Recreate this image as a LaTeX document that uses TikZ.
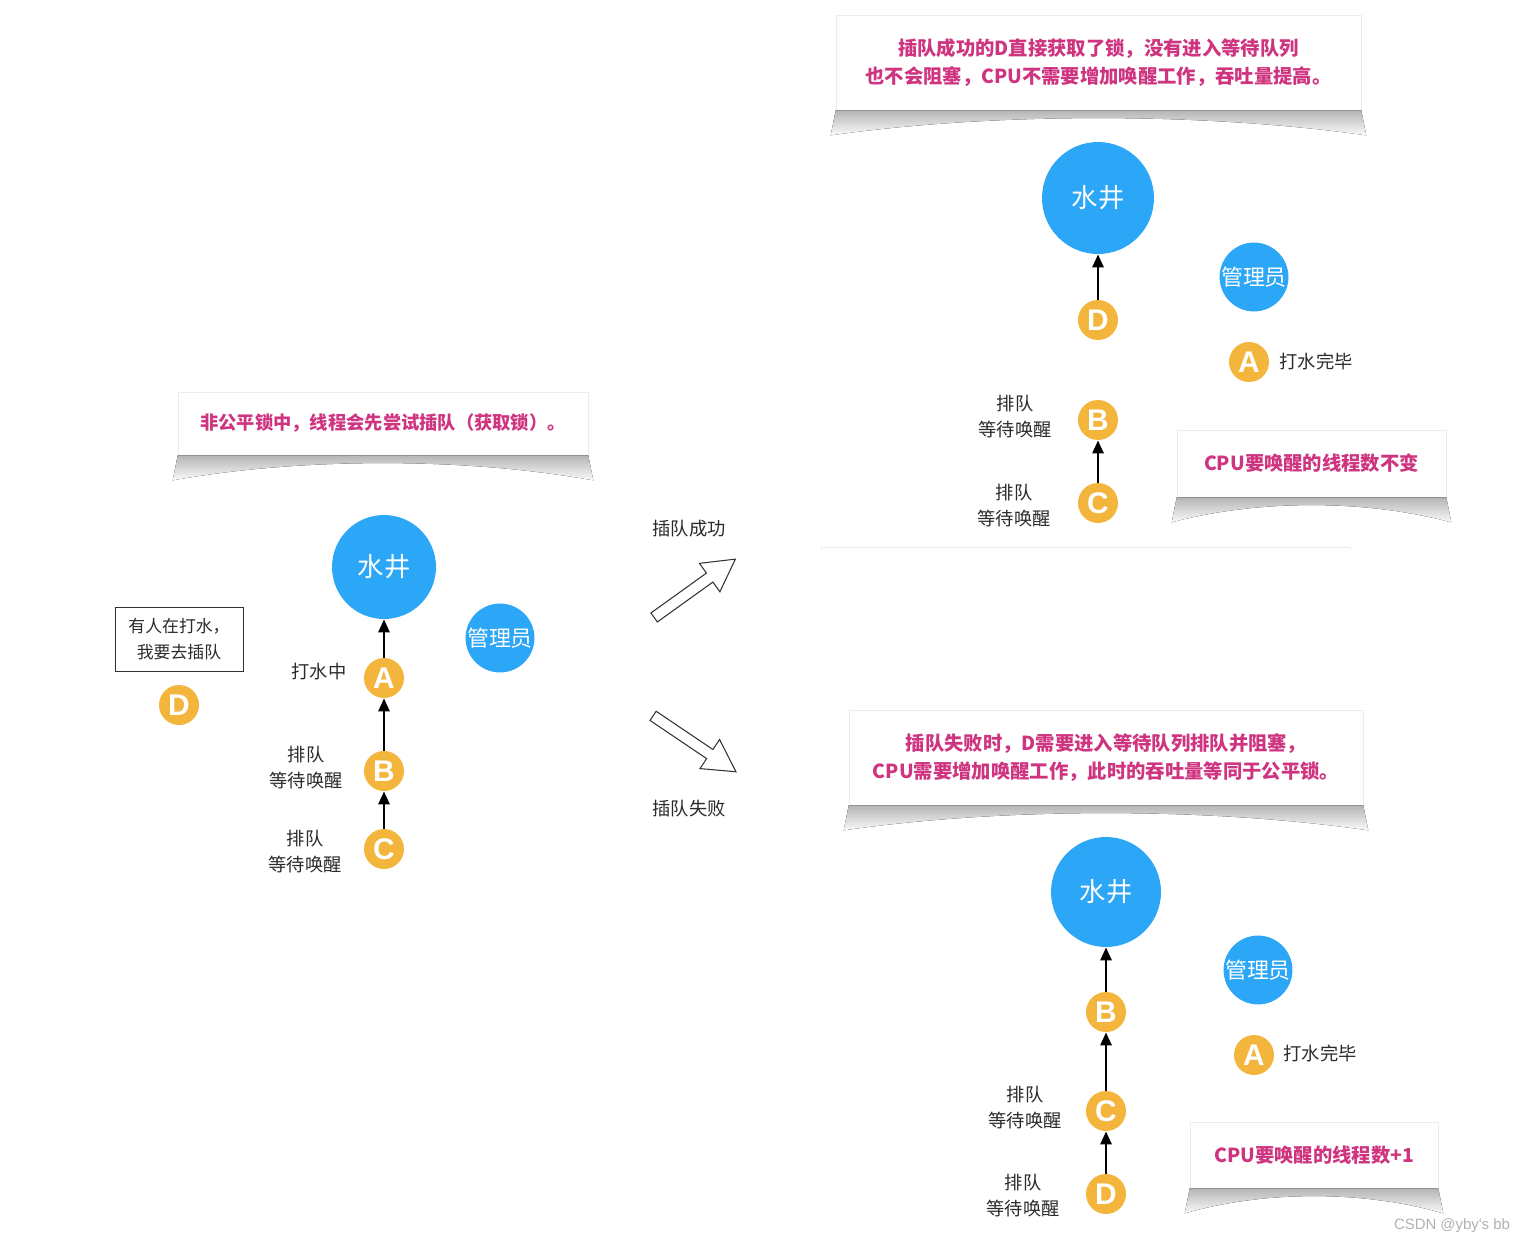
\documentclass[tikz,border=0pt]{standalone}
\usepackage{fontspec}
\setmainfont{Noto Sans CJK SC}
\newfontfamily\latinfont{Liberation Sans}
\usepackage{tikz}
\usetikzlibrary{arrows.meta,calc,positioning,shapes.arrows}
\definecolor{jingLan}{HTML}{2CA6F6}
\definecolor{chengSe}{HTML}{F4B53D}
\definecolor{fenHong}{HTML}{CF3480}
\definecolor{wenHui}{HTML}{2B2B2B}

\tikzset{
  well/.style={circle,fill=jingLan,text=white,inner sep=0pt,font=\fontsize{15}{15}\selectfont},
  guard/.style={circle,fill=jingLan,text=white,inner sep=0pt,font=\fontsize{12.5}{12.5}\selectfont},
  thr/.style={circle,fill=chengSe,text=white,minimum size=0.8cm,inner sep=0pt,font=\latinfont\fontsize{17}{17}\selectfont\bfseries},
  lbl/.style={text=wenHui,align=center,inner sep=0pt,font=\fontsize{10.4}{14.8}\selectfont},
  note/.style={rectangle,fill=white,draw=gray!15,text=fenHong,align=center,inner sep=0pt,font=\fontsize{11}{15.9}\selectfont\bfseries},
  curl/.style={top color=gray!58,bottom color=gray!4,draw=none},
  flow/.style={-{Triangle[length=0.26cm,width=0.22cm]},line width=1.5pt},
  fat/.style={single arrow,draw=black!80,fill=white,line width=0.6pt,minimum height=2cm,
    single arrow head extend=0.24cm,single arrow tip angle=58,inner sep=0.1cm}
}

% curled paper shadow under a note
\newcommand{\curlshadow}[1]{%
  \fill[curl] (#1.south west) -- ($(#1.south west)+(-5,25)$)
    .. controls ($(#1.south west)!0.3!(#1.south east)+(0,2)$) and ($(#1.south west)!0.7!(#1.south east)+(0,2)$)
    .. ($(#1.south east)+(5,25)$) -- (#1.south east) -- cycle;}

\begin{document}
\begin{tikzpicture}[x=0.02cm,y=-0.02cm]
\useasboundingbox[fill=white] (0,0) rectangle (1525,1244);

% left: before
\node[note,minimum width=8.2cm,minimum height=1.26cm,font=\fontsize{10.4}{15}\selectfont\bfseries] (introNote) at (383,423.5) {非公平锁中，线程会先尝试插队（获取锁）。};
\curlshadow{introNote}
\node[well,minimum size=2.08cm] (wellL) at (384,567) {水井};
\node[guard,minimum size=1.28cm] (guardL) at (500,638) {管理员};
\node[thr] (aL) at (384,678) {A};
\node[thr] (bL) at (384,771) {B};
\node[thr] (cL) at (384,849) {C};
\node[thr] (dL) at (179,705) {D};
\node[lbl] (aLbl) at (319,672) {打水中};
\node[lbl] (bLbl) at (306,768) {排队\\等待唤醒};
\node[lbl] (cLbl) at (305,852) {排队\\等待唤醒};
\node[lbl,draw=black!80,thin,minimum width=2.56cm,minimum height=1.28cm,font=\fontsize{9.6}{14.5}\selectfont] (wish) at (179,639) {有人在打水，\\我要去插队};
\draw[flow] (aL) -- (wellL);
\draw[flow] (bL) -- (aL);
\draw[flow] (cL) -- (bL);

% middle
\node[fat,rotate=35.7] (win) at (690.7,591.2) {};
\node[fat,rotate=-34] (lose) at (690.4,741) {};
\node[lbl] (winLbl) at (689,529) {插队成功};
\node[lbl] (loseLbl) at (689,809) {插队失败};

% top right: success
\node[note,minimum width=10.5cm,minimum height=1.9cm] (winNote) at (1098.5,62.5) {插队成功的D直接获取了锁，没有进入等待队列\\也不会阻塞，CPU不需要增加唤醒工作，吞吐量提高。};
\curlshadow{winNote}
\node[well,minimum size=2.24cm] (wellT) at (1098,198) {水井};
\node[guard,minimum size=1.36cm] (guardT) at (1254,277) {管理员};
\node[thr] (dT) at (1098,320) {D};
\node[thr] (aT) at (1249,362) {A};
\node[thr] (bT) at (1098,420) {B};
\node[thr] (cT) at (1098,503) {C};
\node[lbl] (aTLbl) at (1316,361) {打水完毕};
\node[lbl] (bTLbl) at (1015,417) {排队\\等待唤醒};
\node[lbl] (cTLbl) at (1014,506) {排队\\等待唤醒};
\node[note,minimum width=5.38cm,minimum height=1.34cm] (sameNote) at (1311.5,463.5) {CPU要唤醒的线程数不变};
\curlshadow{sameNote}
\draw[flow] (dT) -- (wellT);
\draw[flow] (cT) -- (bT);
\draw[gray!15] (821,550) -- (821,547) -- (1350,547) -- (1350,550);

% bottom right: failure
\node[note,minimum width=10.28cm,minimum height=1.9cm] (loseNote) at (1106,757.5) {插队失败时，D需要进入等待队列排队并阻塞，\\CPU需要增加唤醒工作，此时的吞吐量等同于公平锁。};
\curlshadow{loseNote}
\node[well,minimum size=2.2cm] (wellB) at (1106,892) {水井};
\node[guard,minimum size=1.32cm] (guardB) at (1258,970) {管理员};
\node[thr] (bB) at (1106,1012) {B};
\node[thr] (aB) at (1254,1055) {A};
\node[thr] (cB) at (1106,1111) {C};
\node[thr] (dB) at (1106,1194) {D};
\node[lbl] (aBLbl) at (1320,1053) {打水完毕};
\node[lbl] (cBLbl) at (1025,1108) {排队\\等待唤醒};
\node[lbl] (dBLbl) at (1023,1196) {排队\\等待唤醒};
\node[note,minimum width=4.96cm,minimum height=1.32cm] (plusNote) at (1314,1155) {CPU要唤醒的线程数+1};
\curlshadow{plusNote}
\draw[flow] (bB) -- (wellB);
\draw[flow] (cB) -- (bB);
\draw[flow] (dB) -- (cB);

\node[text=gray!60,inner sep=0pt,font=\latinfont\fontsize{8.5}{8.5}\selectfont] (mark) at (1452,1226) {CSDN @yby\textquotesingle s bb};
\end{tikzpicture}
\end{document}
